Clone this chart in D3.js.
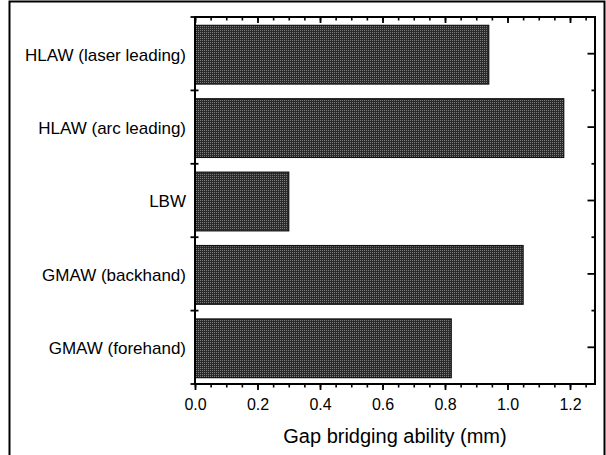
<!DOCTYPE html>
<html>
<head>
<meta charset="utf-8">
<script src="https://cdn.jsdelivr.net/npm/d3@7"></script>
<style>
  html, body { margin: 0; padding: 0; background: #fff; }
  svg { display: block; }
  text { font-family: "Liberation Sans", Arial, Helvetica, sans-serif; fill: #000; }
</style>
</head>
<body>
<div id="chart"></div>
<script>
// Welding processes and their gap bridging ability (mm)
const processes = [
  "HLAW (laser leading)",
  "HLAW (arc leading)",
  "LBW",
  "GMAW (backhand)",
  "GMAW (forehand)"
];
const gapBridging = [0.94, 1.18, 0.30, 1.05, 0.82];
const majorTicks = [0.0, 0.2, 0.4, 0.6, 0.8, 1.0, 1.2];
const minorTicks = d3.range(0, 1.2801, 0.05);
const xTitle = "Gap bridging ability (mm)";

const W = 606, H = 455;
const plot = { left: 195, right: 595, top: 17, bottom: 384 };

const svg = d3.select("#chart").append("svg")
  .attr("width", W).attr("height", H);

// dithered dark fill for the bars
const defs = svg.append("defs");
const pat = defs.append("pattern")
  .attr("id", "stipple").attr("patternUnits", "userSpaceOnUse")
  .attr("width", 2).attr("height", 2);
pat.append("rect").attr("width", 2).attr("height", 2).attr("fill", "#2a2a2a");
pat.append("rect").attr("width", 1).attr("height", 1).attr("fill", "#7c7c7c");

// outer border
svg.append("rect")
  .attr("x", 9.5).attr("y", 1.5).attr("width", 595).attr("height", 470)
  .attr("fill", "none").attr("stroke", "#000").attr("stroke-width", 2);

const x = d3.scaleLinear().domain([0, 1.28]).range([plot.left, plot.right]);
const y = d3.scaleBand().domain(processes)
  .range([plot.top, plot.bottom]).paddingInner(0.2).paddingOuter(0.1);

const rows = processes.map((p, i) => ({ name: p, value: gapBridging[i] }));
const boundaries = d3.range(processes.length + 1)
  .map(i => plot.top + i * y.step());

// bars
svg.append("g").selectAll("rect").data(rows).join("rect")
  .attr("x", x(0))
  .attr("y", d => y(d.name) + 1)
  .attr("width", d => x(d.value) - x(0))
  .attr("height", y.bandwidth())
  .attr("fill", "url(#stipple)")
  .attr("stroke", "#111").attr("stroke-width", 1.2);

function styleAxis(g, width) {
  g.select(".domain").remove();
  g.selectAll(".tick line").attr("stroke", "#000").attr("stroke-width", width);
}

// bottom axis: major ticks with labels, minor ticks outward
svg.append("g").attr("transform", `translate(0,${plot.bottom})`)
  .call(d3.axisBottom(x).tickValues(minorTicks).tickSize(3.5).tickFormat(""))
  .call(g => styleAxis(g, 1.6));
svg.append("g").attr("transform", `translate(0,${plot.bottom})`)
  .call(d3.axisBottom(x).tickValues(majorTicks).tickSize(6).tickPadding(9)
    .tickFormat(d3.format(".1f")))
  .call(g => styleAxis(g, 1.8))
  .call(g => g.selectAll(".tick text")
    .attr("font-size", 16).attr("fill", "#000").attr("dy", "0.66em"));

// top axis: ticks pointing inward
svg.append("g").attr("transform", `translate(0,${plot.top})`)
  .call(d3.axisTop(x).tickValues(minorTicks).tickSize(-3.5).tickFormat(""))
  .call(g => styleAxis(g, 1.6));
svg.append("g").attr("transform", `translate(0,${plot.top})`)
  .call(d3.axisTop(x).tickValues(majorTicks).tickSize(-6).tickFormat(""))
  .call(g => styleAxis(g, 1.8));

// right axis: band centres (long) and band edges (short), inward
svg.append("g").attr("transform", `translate(${plot.right},0)`)
  .call(d3.axisRight(y).tickSize(-7.5).tickFormat(""))
  .call(g => styleAxis(g, 1.8));
svg.append("g").selectAll("line").data(boundaries).join("line")
  .attr("x1", plot.right - 3.5).attr("x2", plot.right)
  .attr("y1", d => d).attr("y2", d => d)
  .attr("stroke", "#000").attr("stroke-width", 1.8);

// left axis: band edges, ticks crossing the axis line
svg.append("g").selectAll("line").data(boundaries).join("line")
  .attr("x1", plot.left - 4.5).attr("x2", plot.left + 3.5)
  .attr("y1", d => d).attr("y2", d => d)
  .attr("stroke", "#000").attr("stroke-width", 1.8);

// category labels
svg.append("g").selectAll("text").data(rows).join("text")
  .attr("x", plot.left - 9)
  .attr("y", d => y(d.name) + y.bandwidth() / 2 + 1)
  .attr("dy", "0.35em")
  .attr("text-anchor", "end")
  .attr("font-size", 17)
  .text(d => d.name);

// plot frame
svg.append("rect")
  .attr("x", plot.left).attr("y", plot.top)
  .attr("width", plot.right - plot.left).attr("height", plot.bottom - plot.top)
  .attr("fill", "none").attr("stroke", "#000").attr("stroke-width", 2);

// x axis title
svg.append("text")
  .attr("x", (plot.left + plot.right) / 2)
  .attr("y", 442.5)
  .attr("text-anchor", "middle")
  .attr("font-size", 20)
  .text(xTitle);
</script>
</body>
</html>
